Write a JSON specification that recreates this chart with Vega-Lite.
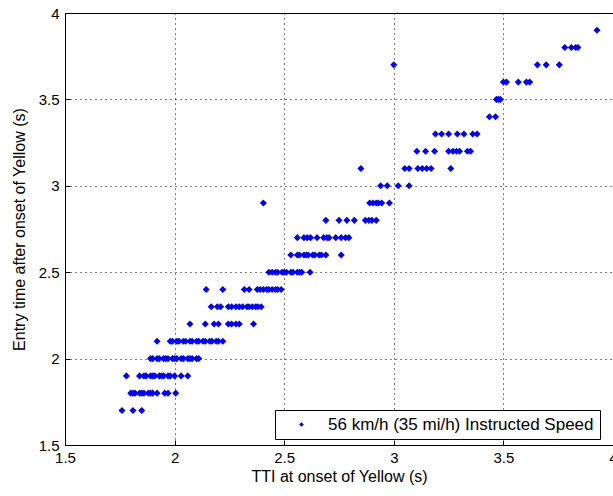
{
  "$schema": "https://vega.github.io/schema/vega-lite/v6.json",
  "width": 548,
  "height": 432,
  "autosize": "none",
  "padding": {"left": 65, "top": 13, "right": 0, "bottom": 51},
  "background": "white",
  "config": {
    "font": "Liberation Sans",
    "view": {"stroke": "black", "strokeWidth": 1},
    "axis": {
      "labelFont": "Liberation Sans",
      "titleFont": "Liberation Sans",
      "labelFontSize": 15,
      "titleFontSize": 16,
      "titleFontWeight": "normal",
      "labelColor": "black",
      "titleColor": "black",
      "domainColor": "black",
      "tickColor": "black",
      "gridColor": "black",
      "gridDash": [1, 4],
      "gridOpacity": 1,
      "gridWidth": 1,
      "tickSize": -5,
      "domain": true
    }
  },
  "data": {
    "values": [
      {"x": 1.76, "y": 1.7}, {"x": 1.81, "y": 1.7}, {"x": 1.85, "y": 1.7},
      {"x": 1.80, "y": 1.8}, {"x": 1.81, "y": 1.8}, {"x": 1.82, "y": 1.8}, {"x": 1.84, "y": 1.8}, {"x": 1.85, "y": 1.8}, {"x": 1.86, "y": 1.8}, {"x": 1.88, "y": 1.8}, {"x": 1.89, "y": 1.8}, {"x": 1.90, "y": 1.8}, {"x": 1.92, "y": 1.8}, {"x": 1.955, "y": 1.8}, {"x": 1.97, "y": 1.8}, {"x": 2.005, "y": 1.8},
      {"x": 1.78, "y": 1.9}, {"x": 1.84, "y": 1.9}, {"x": 1.86, "y": 1.9}, {"x": 1.87, "y": 1.9}, {"x": 1.89, "y": 1.9}, {"x": 1.90, "y": 1.9}, {"x": 1.91, "y": 1.9}, {"x": 1.93, "y": 1.9}, {"x": 1.94, "y": 1.9}, {"x": 1.95, "y": 1.9}, {"x": 1.97, "y": 1.9}, {"x": 1.98, "y": 1.9}, {"x": 2.00, "y": 1.9}, {"x": 2.03, "y": 1.9}, {"x": 2.06, "y": 1.9},
      {"x": 1.89, "y": 2.0}, {"x": 1.90, "y": 2.0}, {"x": 1.92, "y": 2.0}, {"x": 1.93, "y": 2.0}, {"x": 1.95, "y": 2.0}, {"x": 1.96, "y": 2.0}, {"x": 1.97, "y": 2.0}, {"x": 1.99, "y": 2.0}, {"x": 2.00, "y": 2.0}, {"x": 2.01, "y": 2.0}, {"x": 2.03, "y": 2.0}, {"x": 2.04, "y": 2.0}, {"x": 2.06, "y": 2.0}, {"x": 2.07, "y": 2.0}, {"x": 2.08, "y": 2.0}, {"x": 2.10, "y": 2.0}, {"x": 2.11, "y": 2.0},
      {"x": 1.92, "y": 2.1}, {"x": 1.98, "y": 2.1}, {"x": 1.99, "y": 2.1}, {"x": 2.01, "y": 2.1}, {"x": 2.02, "y": 2.1}, {"x": 2.04, "y": 2.1}, {"x": 2.05, "y": 2.1}, {"x": 2.07, "y": 2.1}, {"x": 2.08, "y": 2.1}, {"x": 2.10, "y": 2.1}, {"x": 2.11, "y": 2.1}, {"x": 2.13, "y": 2.1}, {"x": 2.14, "y": 2.1}, {"x": 2.16, "y": 2.1}, {"x": 2.17, "y": 2.1}, {"x": 2.19, "y": 2.1}, {"x": 2.20, "y": 2.1}, {"x": 2.22, "y": 2.1},
      {"x": 2.07, "y": 2.2}, {"x": 2.14, "y": 2.2}, {"x": 2.18, "y": 2.2}, {"x": 2.20, "y": 2.2}, {"x": 2.245, "y": 2.2}, {"x": 2.26, "y": 2.2}, {"x": 2.28, "y": 2.2}, {"x": 2.295, "y": 2.2}, {"x": 2.36, "y": 2.2},
      {"x": 2.167, "y": 2.3}, {"x": 2.195, "y": 2.3}, {"x": 2.21, "y": 2.3}, {"x": 2.245, "y": 2.3}, {"x": 2.26, "y": 2.3}, {"x": 2.28, "y": 2.3}, {"x": 2.295, "y": 2.3}, {"x": 2.31, "y": 2.3}, {"x": 2.33, "y": 2.3}, {"x": 2.34, "y": 2.3}, {"x": 2.355, "y": 2.3}, {"x": 2.37, "y": 2.3}, {"x": 2.38, "y": 2.3}, {"x": 2.395, "y": 2.3},
      {"x": 2.144, "y": 2.4}, {"x": 2.22, "y": 2.4}, {"x": 2.318, "y": 2.4}, {"x": 2.34, "y": 2.4}, {"x": 2.377, "y": 2.4}, {"x": 2.39, "y": 2.4}, {"x": 2.405, "y": 2.4}, {"x": 2.42, "y": 2.4}, {"x": 2.43, "y": 2.4}, {"x": 2.445, "y": 2.4}, {"x": 2.46, "y": 2.4}, {"x": 2.47, "y": 2.4}, {"x": 2.486, "y": 2.4},
      {"x": 2.43, "y": 2.5}, {"x": 2.445, "y": 2.5}, {"x": 2.46, "y": 2.5}, {"x": 2.47, "y": 2.5}, {"x": 2.49, "y": 2.5}, {"x": 2.50, "y": 2.5}, {"x": 2.51, "y": 2.5}, {"x": 2.53, "y": 2.5}, {"x": 2.54, "y": 2.5}, {"x": 2.56, "y": 2.5}, {"x": 2.57, "y": 2.5}, {"x": 2.58, "y": 2.5}, {"x": 2.618, "y": 2.5},
      {"x": 2.53, "y": 2.6}, {"x": 2.56, "y": 2.6}, {"x": 2.57, "y": 2.6}, {"x": 2.59, "y": 2.6}, {"x": 2.60, "y": 2.6}, {"x": 2.61, "y": 2.6}, {"x": 2.63, "y": 2.6}, {"x": 2.64, "y": 2.6}, {"x": 2.66, "y": 2.6}, {"x": 2.67, "y": 2.6}, {"x": 2.69, "y": 2.6}, {"x": 2.76, "y": 2.6},
      {"x": 2.56, "y": 2.7}, {"x": 2.59, "y": 2.7}, {"x": 2.605, "y": 2.7}, {"x": 2.62, "y": 2.7}, {"x": 2.65, "y": 2.7}, {"x": 2.68, "y": 2.7}, {"x": 2.695, "y": 2.7}, {"x": 2.705, "y": 2.7}, {"x": 2.735, "y": 2.7}, {"x": 2.76, "y": 2.7}, {"x": 2.78, "y": 2.7}, {"x": 2.795, "y": 2.7},
      {"x": 2.69, "y": 2.8}, {"x": 2.75, "y": 2.8}, {"x": 2.786, "y": 2.8}, {"x": 2.82, "y": 2.8}, {"x": 2.87, "y": 2.8}, {"x": 2.886, "y": 2.8}, {"x": 2.90, "y": 2.8}, {"x": 2.92, "y": 2.8},
      {"x": 2.405, "y": 2.9}, {"x": 2.89, "y": 2.9}, {"x": 2.905, "y": 2.9}, {"x": 2.92, "y": 2.9}, {"x": 2.93, "y": 2.9}, {"x": 2.945, "y": 2.9}, {"x": 2.98, "y": 2.9},
      {"x": 2.94, "y": 3.0}, {"x": 2.97, "y": 3.0}, {"x": 3.02, "y": 3.0}, {"x": 3.07, "y": 3.0},
      {"x": 2.85, "y": 3.1}, {"x": 3.05, "y": 3.1}, {"x": 3.07, "y": 3.1}, {"x": 3.11, "y": 3.1}, {"x": 3.13, "y": 3.1}, {"x": 3.15, "y": 3.1}, {"x": 3.17, "y": 3.1}, {"x": 3.26, "y": 3.1},
      {"x": 3.105, "y": 3.2}, {"x": 3.145, "y": 3.2}, {"x": 3.186, "y": 3.2}, {"x": 3.25, "y": 3.2}, {"x": 3.27, "y": 3.2}, {"x": 3.286, "y": 3.2}, {"x": 3.30, "y": 3.2}, {"x": 3.336, "y": 3.2}, {"x": 3.35, "y": 3.2},
      {"x": 3.19, "y": 3.3}, {"x": 3.218, "y": 3.3}, {"x": 3.25, "y": 3.3}, {"x": 3.29, "y": 3.3}, {"x": 3.32, "y": 3.3}, {"x": 3.36, "y": 3.3}, {"x": 3.38, "y": 3.3},
      {"x": 3.436, "y": 3.4}, {"x": 3.464, "y": 3.4},
      {"x": 3.468, "y": 3.5}, {"x": 3.477, "y": 3.5}, {"x": 3.486, "y": 3.5},
      {"x": 3.50, "y": 3.6}, {"x": 3.514, "y": 3.6}, {"x": 3.568, "y": 3.6}, {"x": 3.605, "y": 3.6}, {"x": 3.62, "y": 3.6},
      {"x": 3.0, "y": 3.7}, {"x": 3.655, "y": 3.7}, {"x": 3.695, "y": 3.7}, {"x": 3.755, "y": 3.7},
      {"x": 3.78, "y": 3.8}, {"x": 3.81, "y": 3.8}, {"x": 3.83, "y": 3.8}, {"x": 3.84, "y": 3.8},
      {"x": 3.927, "y": 3.9}
    ]
  },
  "transform": [{"calculate": "'56 km/h (35 mi/h) Instructed Speed'", "as": "series"}],
  "mark": {"type": "point", "shape": "diamond", "filled": true, "size": 50, "opacity": 1},
  "encoding": {
    "x": {
      "field": "x", "type": "quantitative",
      "scale": {"domain": [1.5, 4], "nice": false, "zero": false},
      "axis": {"values": [1.5, 2, 2.5, 3, 3.5, 4], "format": "~g", "title": "TTI at onset of Yellow (s)", "labelPadding": 10, "titlePadding": 3, "labelFlush": false}
    },
    "y": {
      "field": "y", "type": "quantitative",
      "scale": {"domain": [1.5, 4], "nice": false, "zero": false},
      "axis": {"values": [1.5, 2, 2.5, 3, 3.5, 4], "format": "~g", "title": "Entry time after onset of Yellow (s)", "labelPadding": 11, "titlePadding": 11, "labelFlush": false}
    },
    "color": {
      "field": "series", "type": "nominal",
      "scale": {"range": ["#0000ff"]},
      "legend": {
        "title": null, "orient": "none", "legendX": 210, "legendY": 397,
        "strokeColor": "black", "fillColor": "white", "padding": 6,
        "labelFont": "Liberation Sans", "labelFontSize": 17, "labelColor": "black", "labelLimit": 400,
        "symbolType": "diamond", "symbolSize": 22, "symbolOffset": 12, "labelOffset": 18,
        "cornerRadius": 0, "symbolStrokeWidth": 0
      }
    }
  }
}
